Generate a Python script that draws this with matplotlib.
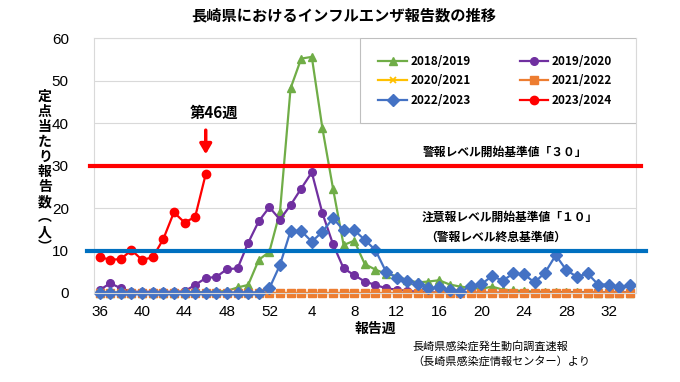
import matplotlib
matplotlib.use('Agg')
import matplotlib.pyplot as plt
from matplotlib.patches import Rectangle

plt.rcParams['font.family'] = ['Noto Sans CJK JP', 'DejaVu Sans']

# weeks 36..52 then 1..34
weeks = list(range(36, 53)) + list(range(1, 35))
tick_weeks = [36, 40, 44, 48, 52, 4, 8, 12, 16, 20, 24, 28, 32]

s2018 = [0.1, 0.1, 0.1, 0.1, 0.1, 0.1, 0.1, 0.1, 0.1, 0.2, 0.2, 0.3, 0.5, 1.3, 1.9, 7.8, 9.7,
         19.1, 48.2, 55.2, 55.6, 38.8, 24.6, 11.3, 12.3, 6.8, 5.5, 4.5, 4.0, 3.0, 2.5, 2.7, 3.0,
         2.0, 1.5, 1.2, 1.0, 1.5, 0.8, 0.6, 0.5, 0.3, 0.3, 0.2, 0.2, 0.2, 0.1, 0.1, 0.1, 0.1, 0.1]
s2019 = [0.7, 2.3, 1.1, 0.3, 0.3, 0.3, 0.3, 0.3, 0.4, 1.9, 3.5, 3.8, 5.6, 5.8, 11.8, 16.9, 20.2,
         17.3, 20.7, 24.6, 28.4, 18.8, 11.5, 5.8, 4.2, 2.7, 1.9, 1.1, 0.8, 0.5, 0.3, 0.2, 0.1,
         0.1, 0.1, 0.1, 0.1, 0.1, 0.1, 0.1, 0.1, 0.1, 0.1, 0.1, 0.1, 0.1, 0.1, 0.1, 0.1, 0.1, 0.1]
s2020 = [0.0, 0.0, 0.0, 0.0, 0.0, 0.0, 0.0, 0.0, 0.0, 0.0, 0.0, 0.0, 0.0, 0.0, 0.0, 0.0, 0.0,
         0.0, 0.0, 0.0, 0.0, 0.0, 0.0, 0.0, 0.0, 0.0, 0.0, 0.0, 0.0, 0.0, 0.0, 0.0, 0.0,
         0.0, 0.0, 0.0, 0.0, 0.0, 0.0, 0.0, 0.0, 0.0, 0.0, 0.0, 0.0, 0.0, 0.0, 0.0, 0.0, 0.0, 0.0]
s2021 = [0.0, 0.0, 0.0, 0.0, 0.0, 0.0, 0.0, 0.0, 0.0, 0.0, 0.0, 0.0, 0.0, 0.0, 0.0, 0.0, 0.0,
         0.0, 0.0, 0.0, 0.0, 0.0, 0.0, 0.0, 0.0, 0.0, 0.0, 0.0, 0.0, 0.0, 0.0, 0.0, 0.0,
         0.0, 0.0, 0.0, 0.0, 0.0, 0.0, 0.0, 0.0, 0.0, 0.0, 0.0, 0.0, 0.0, 0.0, 0.0, 0.0, 0.0, 0.0]
s2022 = [0.1, 0.1, 0.1, 0.1, 0.1, 0.1, 0.1, 0.1, 0.1, 0.1, 0.1, 0.1, 0.1, 0.1, 0.1, 0.1, 1.1,
         6.6, 14.6, 14.6, 12.1, 14.4, 17.6, 14.8, 14.8, 12.5, 10.1, 5.0, 3.6, 2.9, 2.1, 1.1, 1.3,
         0.7, 0.3, 1.6, 2.1, 4.0, 2.9, 4.6, 4.4, 2.5, 4.8, 8.9, 5.4, 3.8, 4.6, 2.0, 2.0, 1.3, 1.9]
s2023 = [8.5, 7.8, 8.0, 10.1, 7.8, 8.4, 12.7, 19.0, 16.6, 17.9, 28.0]

x = list(range(len(weeks)))

fig = plt.figure(figsize=(6.8, 3.82), dpi=100)
ax = fig.add_axes([0.138, 0.233, 0.797, 0.667])

kw = dict(lw=1.6, clip_on=False)
l1, = ax.plot(x, s2018, color='#70AD47', marker='^', ms=6, label='2018/2019', **kw)
l2, = ax.plot(x, s2019, color='#7030A0', marker='o', ms=5.5, label='2019/2020', **kw)
l3, = ax.plot(x, s2020, color='#FFC000', marker='x', ms=5, mew=1.3, label='2020/2021', **kw)
l4, = ax.plot(x, s2021, color='#ED7D31', marker='s', ms=6, label='2021/2022', **kw)
l5, = ax.plot(x, s2022, color='#4472C4', marker='D', ms=6.5, label='2022/2023', **kw)
l6, = ax.plot(x[:len(s2023)], s2023, color='#FF0000', marker='o', ms=6, label='2023/2024', **kw)

# threshold lines
ax.plot([-0.9, 51.0], [30, 30], color='#FF0000', lw=3, clip_on=False, zorder=5)
ax.plot([-1.2, 51.5], [10, 10], color='#0070C0', lw=3, clip_on=False, zorder=5)

ax.set_xlim(-0.55, 50.55)
ax.set_ylim(0, 60)
ax.set_yticks(range(0, 61, 10))
ax.set_xticks([weeks.index(w) if w >= 36 else 17 + weeks[17:].index(w) for w in tick_weeks])
ax.set_xticklabels([str(w) for w in tick_weeks], fontsize=11, family=['Liberation Sans'])
ax.set_yticklabels([str(v) for v in range(0, 61, 10)], fontsize=11, family=['Liberation Sans'])
ax.tick_params(axis='both', length=0)
ax.tick_params(axis='x', pad=9)
ax.tick_params(axis='y', pad=18)
ax.grid(axis='y', color='#d9d9d9', lw=0.8)
ax.set_axisbelow(True)
for sp in ax.spines.values():
    sp.set_color('#d9d9d9')
    sp.set_linewidth(0.8)

# legend box
ax.add_patch(Rectangle((0.491, 0.667), 0.509, 0.333, transform=ax.transAxes,
                       facecolor='white', edgecolor='#bfbfbf', lw=0.8, zorder=6))
leg = ax.legend(handles=[l1, l3, l5, l2, l4, l6], ncol=2, loc='upper left',
                bbox_to_anchor=(0.525, 0.935), frameon=False, fontsize=8.5,
                handlelength=2.4, handletextpad=0.3, columnspacing=4.2,
                labelspacing=0.55, borderaxespad=0, borderpad=0)
leg.set_zorder(7)
for t in leg.get_texts():
    t.set_fontweight('bold')

# annotations
ax.text(10.8, 42.5, '第46週', fontsize=11, fontweight='bold', ha='center', va='center')
ax.annotate('', xy=(10, 32), xytext=(10, 39),
            arrowprops=dict(arrowstyle='-|>,head_width=0.35,head_length=0.6',
                            color='#FF0000', lw=2.5))
ax.text(38.2, 33.2, '警報レベル開始基準値「３０」', fontsize=8.5, fontweight='bold',
        ha='center', va='center')
ax.text(38.7, 17.8, '注意報レベル開始基準値「１０」', fontsize=8.5, fontweight='bold',
        ha='center', va='center')
ax.text(37.3, 13.0, '（警報レベル終息基準値）', fontsize=8.5, fontweight='bold',
        ha='center', va='center')

fig.text(0.505, 0.96, '長崎県におけるインフルエンザ報告数の推移', fontsize=11,
         fontweight='bold', ha='center', va='center')
fig.text(0.552, 0.138, '報告週', fontsize=10, fontweight='bold', ha='center', va='center')
ylab = '定点当たり報告数︵人︶'
fig.text(0.066, 0.55, '\n'.join(ylab), fontsize=10, fontweight='bold',
         ha='center', va='center', linespacing=1.1)
fig.text(0.606, 0.073, '長崎県感染症発生動向調査速報\n（長崎県感染症情報センター）より',
         fontsize=8, ha='left', va='center', linespacing=1.3)

fig.savefig('out.png', dpi=100)
